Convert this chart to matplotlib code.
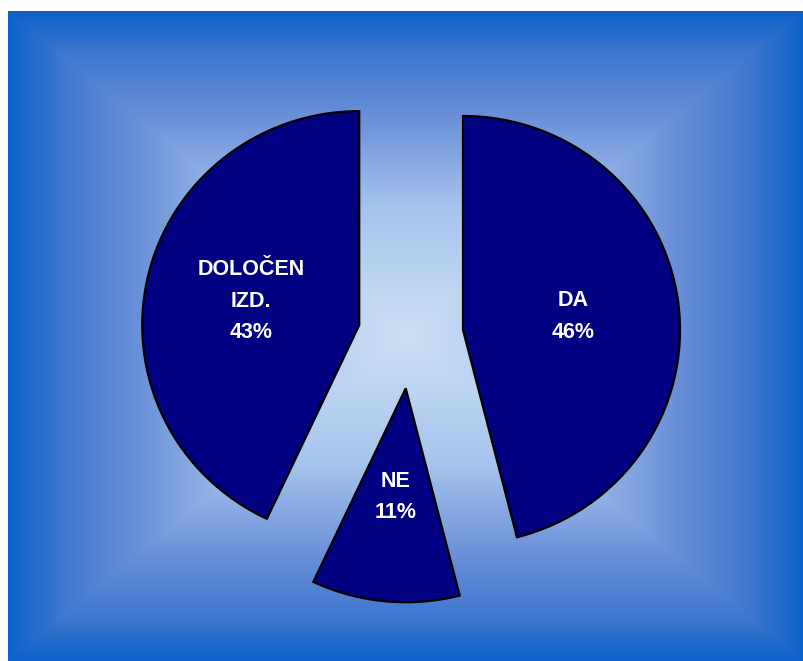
import numpy as np
import matplotlib.pyplot as plt

labels = ["DA", "NE", "DOLOČEN\nIZD."]
shares = [46, 11, 43]

W, H = 804, 661
fig = plt.figure(figsize=(W / 100, H / 100), dpi=100)
fig.patch.set_facecolor("white")

# ozadje: pravokotni gradient (svetla sredina, temno modri robovi)
bx0, by0 = 8, 11
bg = fig.add_axes([bx0 / W, 0, (W - bx0) / W, (H - by0) / H])
bg.set_axis_off()
nx, ny = W - bx0, H - by0
xx = np.abs(np.linspace(-1, 1, nx))[None, :]
yy = np.abs(np.linspace(-1, 1, ny))[:, None]
t = np.maximum(xx, yy)
stops = [0.0, 0.4, 0.68, 0.87, 1.0]
stop_cols = np.array([[205, 225, 245], [165, 195, 236], [105, 143, 216],
                      [62, 118, 208], [12, 98, 200]]) / 255
img = np.stack([np.interp(t, stops, stop_cols[:, k]) for k in range(3)], axis=-1)
bg.imshow(img, aspect="auto", interpolation="bilinear")

# tortni diagram (rahlo eliptičen kot v izvirniku)
ax = fig.add_axes([0, 0, 1, 1])
ax.set_axis_off()
ax.patch.set_alpha(0)
Rx, Ry = 217.0, 214.0
cx, cy = 410.7, 336.5

wedges, _, autotexts = ax.pie(
    shares, explode=[0.243] * 3, startangle=90, counterclock=False,
    colors=["#000080"] * 3, radius=1.0, autopct="%d%%", pctdistance=0.51,
    wedgeprops=dict(edgecolor="black", linewidth=1.6),
    textprops=dict(color="white", fontsize=15.5, fontweight="bold",
                   family="Liberation Sans"),
)
ax.set_xlim(-cx / Rx, (W - cx) / Rx)
ax.set_ylim(-(H - cy) / Ry, cy / Ry)
ax.set_aspect("auto")

for txt, lab, val in zip(autotexts, labels, shares):
    txt.set_text(f"{lab}\n{val}%")
    txt.set_linespacing(1.65)
    txt.set_ha("center")
    txt.set_va("center")
    txt.set_multialignment("center")

fig.savefig("out.png", dpi=100)
